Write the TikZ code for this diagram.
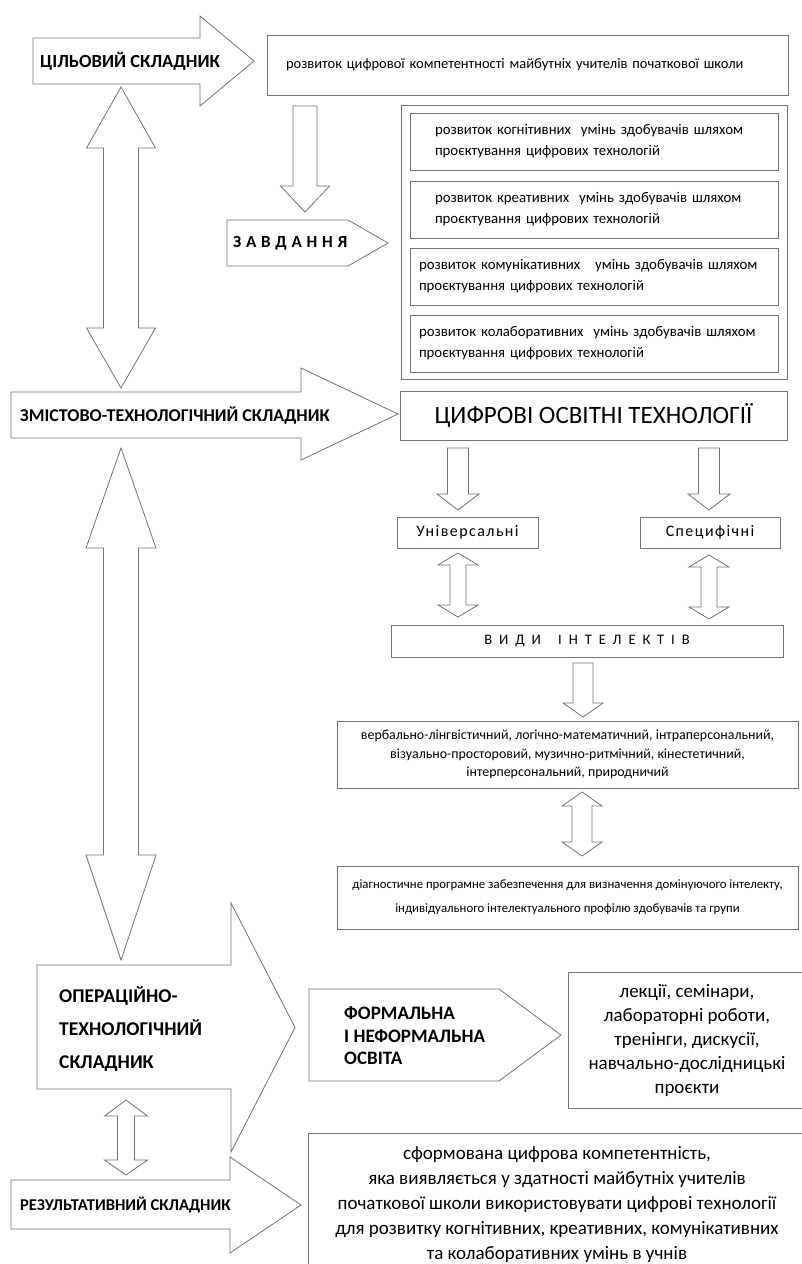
\documentclass[tikz,border=0pt]{standalone}
\usepackage{fontspec}
\setmainfont{Carlito}
\usetikzlibrary{calc}

% estilos
\tikzset{
  frame/.style={draw=black!55, line width=0.8pt, fill=white},
  box/.style={draw=black!55, line width=0.8pt, fill=white, rectangle, inner sep=0pt, text=black},
  lbl/.style={font=\fontsize{18}{21}\selectfont\bfseries, text=black, inner sep=0pt},
  small/.style={font=\fontsize{14.8}{21}\selectfont},
}

% flecha hueca hacia abajo: desde, hasta, medio ancho cuerpo, medio ancho punta, largo punta
\newcommand{\downblk}[5]{%
  \draw[frame] let \p1=(#1), \p2=(#2) in
    (\x1-#3pt,\y1) -- (\x1+#3pt,\y1) -- (\x1+#3pt,\y2+#5pt) -- (\x1+#4pt,\y2+#5pt)
    -- (\x1,\y2) -- (\x1-#4pt,\y2+#5pt) -- (\x1-#3pt,\y2+#5pt) -- cycle;}
% flecha hueca doble vertical
\newcommand{\dblblk}[6]{%
  \draw[frame] let \p1=(#1), \p2=(#2) in
    (\x1,\y1) -- (\x1+#4pt,\y1-#5pt) -- (\x1+#3pt,\y1-#5pt) -- (\x1+#3pt,\y2+#6pt)
    -- (\x1+#4pt,\y2+#6pt) -- (\x1,\y2) -- (\x1-#4pt,\y2+#6pt) -- (\x1-#3pt,\y2+#6pt)
    -- (\x1-#3pt,\y1-#5pt) -- (\x1-#4pt,\y1-#5pt) -- cycle;}
% flecha grande hacia la derecha
\newcommand{\rightblk}[7]{%
  \draw[frame] (#1,#2) -- (#4,#2) -- (#4,#5) -- (#7,{(#5+#6)/2}) -- (#4,#6)
    -- (#4,#3) -- (#1,#3) -- cycle;}

\begin{document}
\begin{tikzpicture}[x=1pt,y=-1pt]
\useasboundingbox[fill=white] (0,0) rectangle (801,1264);

% objetivo
\rightblk{33}{38}{84}{200}{16}{106}{254}
\node[lbl, anchor=west, font=\fontsize{18.5}{21}\selectfont\bfseries] (goal) at (40,61) {ЦІЛЬОВИЙ СКЛАДНИК};
\node[box, minimum width=521, minimum height=60, text width=483, inner xsep=19pt, align=left,
  font=\fontsize{14.5}{17}\selectfont] (goalbox) at (527.5,65)
  {розвиток цифрової компетентності майбутніх учителів початкової школи};

% tareas
\coordinate (d1a) at (305,106);
\coordinate (d1b) at (305,212);
\downblk{d1a}{d1b}{12}{24.5}{26}
\draw[frame] (227,220) -- (348,220) -- (388,243) -- (348,266) -- (227,266) -- cycle;
\node[lbl, anchor=west, font=\fontsize{17}{18}\selectfont\bfseries\addfontfeature{LetterSpace=28}] (tasks) at (233,243) {ЗАВДАННЯ};
\node[box, minimum width=386, minimum height=274] (tasksbox) at (594,242) {};
\node[box, small, minimum width=368, minimum height=57, text width=318, inner xsep=25pt, align=left] (t1) at (594,141.5)
  {розвиток когнітивних\ \ умінь здобувачів шляхом\\проєктування цифрових технологій};
\node[box, small, minimum width=368, minimum height=57, text width=318, inner xsep=25pt, align=left] (t2) at (594,209.5)
  {розвиток креативних\ \ умінь здобувачів шляхом\\проєктування цифрових технологій};
\node[box, small, minimum width=368, minimum height=57, text width=350, inner xsep=9pt, align=left] (t3) at (594,276.5)
  {розвиток комунікативних\ \ \ умінь здобувачів шляхом\\проєктування цифрових технологій};
\node[box, small, minimum width=368, minimum height=57, text width=350, inner xsep=9pt, align=left] (t4) at (594,343.5)
  {розвиток колаборативних\ \ умінь здобувачів шляхом\\проєктування цифрових технологій};

% contenido
\coordinate (l1a) at (121,87);
\coordinate (l1b) at (121,388);
\dblblk{l1a}{l1b}{17.5}{34.5}{61}{60}
\rightblk{11}{392}{438}{301}{368}{460}{398}
\node[lbl, anchor=west] (content) at (20,416) {ЗМІСТОВО-ТЕХНОЛОГІЧНИЙ СКЛАДНИК};
\node[box, minimum width=387, minimum height=49, font=\fontsize{25}{28}\selectfont] (tech) at (593.5,415.5) {ЦИФРОВІ ОСВІТНІ ТЕХНОЛОГІЇ};

\coordinate (d2a) at (458,448);
\coordinate (d2b) at (458,510);
\downblk{d2a}{d2b}{10.5}{21}{16}
\coordinate (d3a) at (709,448);
\coordinate (d3b) at (709,510);
\downblk{d3a}{d3b}{10.5}{21}{16}
\node[box, minimum width=141, minimum height=31, font=\fontsize{16}{18}\selectfont\addfontfeature{LetterSpace=9}] (univ) at (467.5,532.5) {Універсальні};
\node[box, minimum width=140, minimum height=31, font=\fontsize{16}{18}\selectfont\addfontfeature{LetterSpace=9}] (spec) at (710,532.5) {Специфічні};

\coordinate (u1a) at (458,553);
\coordinate (u1b) at (458,617);
\dblblk{u1a}{u1b}{8}{20}{12}{12}
\coordinate (u2a) at (709,555);
\coordinate (u2b) at (709,619);
\dblblk{u2a}{u2b}{8}{20}{12}{12}

\node[box, minimum width=392, minimum height=32, font=\fontsize{14.5}{17}\selectfont\addfontfeature{LetterSpace=48}] (kinds) at (587,641) {ВИДИ\hspace{7pt} ІНТЕЛЕКТІВ};
\coordinate (d4a) at (583,663);
\coordinate (d4b) at (583,717);
\downblk{d4a}{d4b}{10}{20}{14}
\node[box, minimum width=461, minimum height=67, align=center, font=\fontsize{13.9}{18.5}\selectfont] (intel) at (567.5,754.5)
  {вербально-лінгвістичний, логічно-математичний, інтраперсональний,\\візуально-просторовий, музично-ритмічний, кінестетичний,\\інтерперсональний, природничий};
\coordinate (u3a) at (582,792);
\coordinate (u3b) at (582,856);
\dblblk{u3a}{u3b}{10}{20}{14}{14}
\node[box, minimum width=461, minimum height=63, align=center, font=\fontsize{12.8}{24}\selectfont] (diag) at (567.5,897.5)
  {діагностичне програмне забезпечення для визначення домінуючого інтелекту,\\індивідуального інтелектуального профілю здобувачів та групи};

% operacional
\coordinate (l2a) at (121,448);
\coordinate (l2b) at (121,960);
\dblblk{l2a}{l2b}{17.5}{35}{100}{105}
\rightblk{37}{965}{1089}{231}{903}{1152}{295}
\node[lbl, anchor=west, align=left, font=\fontsize{19.5}{33}\selectfont\bfseries] (oper) at (59,1029)
  {ОПЕРАЦІЙНО-\\ТЕХНОЛОГІЧНИЙ\\СКЛАДНИК};
\draw[frame] (309,989) -- (499,989) -- (561,1035) -- (499,1081) -- (309,1081) -- cycle;
\node[lbl, anchor=west, align=left, font=\fontsize{19}{22.5}\selectfont\bfseries] (formal) at (344,1036)
  {ФОРМАЛЬНА\\І НЕФОРМАЛЬНА\\ОСВІТА};
\node[box, minimum width=238, minimum height=136, align=center, font=\fontsize{19}{24}\selectfont] (lect) at (687,1040)
  {лекції, семінари,\\лабораторні роботи,\\тренінги, дискусії,\\навчально-дослідницькі\\проєкти};

% resultado
\rightblk{11}{1180}{1229}{230}{1157}{1253}{301}
\node[lbl, anchor=west, font=\fontsize{16.5}{21}\selectfont\bfseries] (result) at (20,1205) {РЕЗУЛЬТАТИВНИЙ СКЛАДНИК};
\coordinate (u4a) at (126,1100);
\coordinate (u4b) at (126,1175);
\dblblk{u4a}{u4b}{8.5}{21.5}{16}{15}
\node[box, minimum width=498, minimum height=142, align=center, font=\fontsize{19}{25}\selectfont] (res) at (557,1204)
  {сформована цифрова компетентність,\\яка виявляється у здатності майбутніх учителів\\початкової школи використовувати цифрові технології\\для розвитку когнітивних, креативних, комунікативних\\та колаборативних умінь в учнів};
\end{tikzpicture}
\end{document}
